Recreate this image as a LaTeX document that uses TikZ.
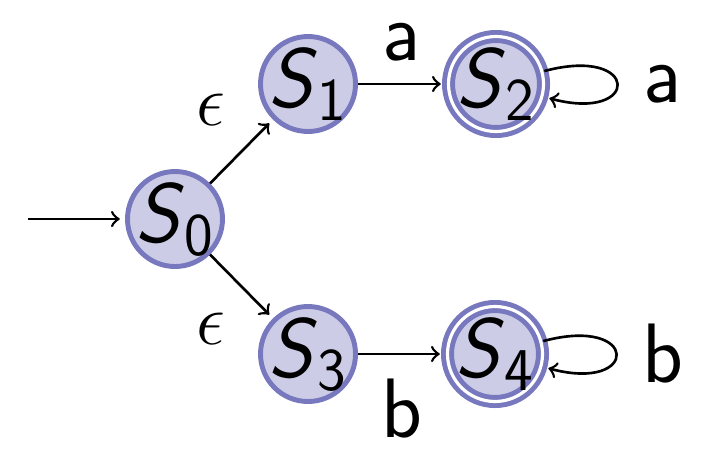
\documentclass[tikz,border=0pt]{standalone}
\usepackage{amsmath, amssymb}
\usepackage{tikz}

\definecolor{statefill}{RGB}{204,204,230}
\definecolor{statering}{RGB}{120,120,190}

\tikzset{
  state/.style={circle, draw=statering, fill=statefill, line width=1.4pt,
    minimum size=0.95cm, inner sep=-3pt, font=\fontsize{24}{29}\selectfont},
  final/.style={state, double=white, double distance=0.9pt},
  trans/.style={->, line width=0.75pt, shorten >=1.5pt},
  sym/.style={font=\fontsize{24}{29}\selectfont\sffamily},
  eps/.style={font=\fontsize{20}{24}\selectfont}
}
\newcommand{\st}[1]{\textsf{\slshape S}$_{\mathsf{#1}}$}

\begin{document}
\begin{tikzpicture}
  \useasboundingbox (0,0) rectangle (7.11,4.5);
  % States
  \node[state] (S0) at (1.75,2.31) {\st{0}};
  \node[state] (S1) at (3.08,3.66) {\st{1}};
  \node[final] (S2) at (4.96,3.66) {\st{2}};
  \node[state] (S3) at (3.08,0.96) {\st{3}};
  \node[final] (S4) at (4.95,0.96) {\st{4}};
  \coordinate (start) at (0.28,2.31);
  % Start arrow
  \draw[trans] (start) -- (S0);
  % Epsilon moves
  \draw[trans] (S0) -- node[eps, pos=0.58, above left=0.08cm] {$\epsilon$} (S1);
  \draw[trans] (S0) -- node[eps, pos=0.58, below left=0.08cm] {$\epsilon$} (S3);
  % Symbol moves
  \draw[trans] (S1) -- node[sym, above=0.1cm] {a} (S2);
  \draw[trans] (S3) -- node[sym, below=0.12cm] {b} (S4);
  % Self loops on the final states
  \draw[trans] (S2) to[out=15, in=-15, looseness=8, min distance=1.0cm]
    node[sym, right=0.14cm] {a} (S2);
  \draw[trans] (S4) to[out=15, in=-15, looseness=8, min distance=1.0cm]
    node[sym, right=0.14cm] {b} (S4);
\end{tikzpicture}
\end{document}
